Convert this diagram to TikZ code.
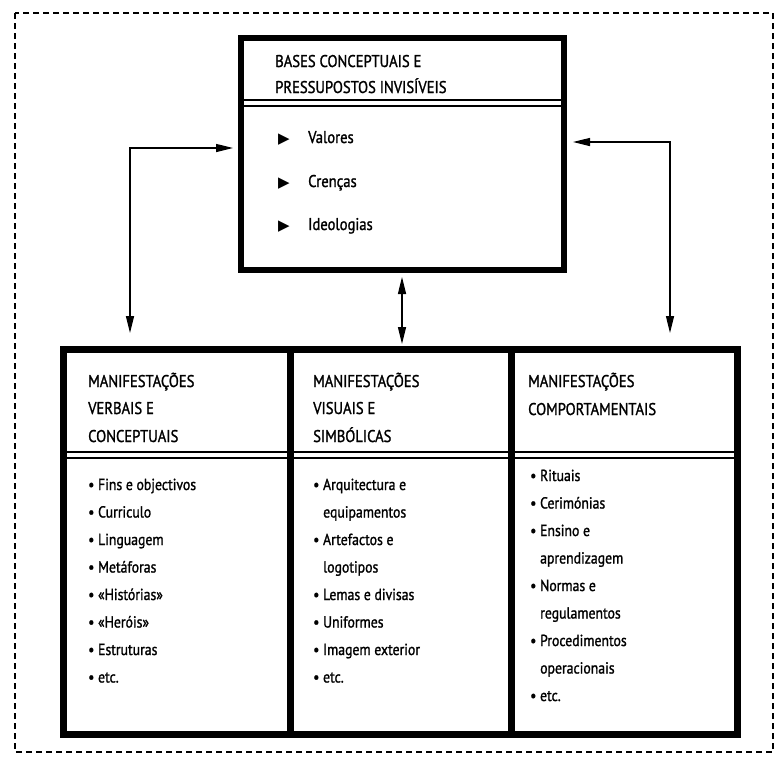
\documentclass[tikz,border=0pt]{standalone}
\usepackage{fontspec}
\setmainfont{PT Sans}[FakeStretch=0.86, FakeBold=1.3]
\newfontfamily\symfont{DejaVu Sans}
\usetikzlibrary{arrows.meta}
\begin{document}
\begin{tikzpicture}[x=1pt,y=-1pt,
  bigbox/.style={draw, line width=6pt, inner sep=0pt, anchor=north west},
  lowbox/.style={draw, line width=7pt, inner sep=0pt, anchor=north west},
  hdr/.style={anchor=base west, inner sep=0pt, font=\fontsize{17}{20}\selectfont},
  itm/.style={anchor=base west, inner sep=0pt, font=\fontsize{16}{19}\selectfont},
  tri/.style={anchor=base, inner sep=0pt, font=\symfont\fontsize{15}{17}\selectfont},
  hline/.style={line width=1.3pt},
  conn/.style={line width=1.3pt, {Triangle[length=17pt,width=8pt]}-{Triangle[length=17pt,width=8pt]}},
  frame/.style={line width=1.8pt, dash pattern=on 6pt off 4pt}
]
\useasboundingbox (0,0) rectangle (776,756);
\fill[white] (0,0) rectangle (776,756);
\draw[frame] (15,13) rectangle (773,752);

% top box
\node[bigbox, minimum width=323pt, minimum height=232pt] (top) at (238,35) {};
\coordinate (hA) at (0,100);
\coordinate (hB) at (0,106);
\draw[hline] (top.west |- hA) -- (top.east |- hA);
\draw[hline] (top.west |- hB) -- (top.east |- hB);
\node[hdr] (t1) at (275,67) {BASES CONCEPTUAIS E};
\node[hdr] (t2) at (275,93) {PRESSUPOSTOS INVISÍVEIS};
\node[tri] (v0) at (284,143) {▶};
\node[hdr] (v1) at (308,143) {Valores};
\node[tri] (c0) at (284,187) {▶};
\node[hdr] (c1) at (308,187) {Crenças};
\node[tri] (i0) at (284,230) {▶};
\node[hdr] (i1) at (308,230) {Ideologias};

% bottom boxes
\node[lowbox, minimum width=226.5pt, minimum height=385pt] (b1) at (60,346) {};
\node[lowbox, minimum width=221pt, minimum height=385pt] (b2) at (286.5,346) {};
\node[lowbox, minimum width=226.5pt, minimum height=385pt] (b3) at (507.5,346) {};
\coordinate (hC) at (0,452);
\coordinate (hD) at (0,458);
\draw[hline] (b1.west |- hC) -- (b3.east |- hC);
\draw[hline] (b1.west |- hD) -- (b3.east |- hD);

% column 1
\node[hdr] (l1) at (88,387) {MANIFESTAÇÕES};
\node[hdr] (l2) at (88,414) {VERBAIS E};
\node[hdr] (l3) at (88,442) {CONCEPTUAIS};
\node[itm] (la) at (88,490) {• Fins e objectivos};
\node[itm] (lb) at (88,517.5) {• Curriculo};
\node[itm] (lc) at (88,545) {• Linguagem};
\node[itm] (ld) at (88,572.5) {• Metáforas};
\node[itm] (le) at (88,600) {• «Histórias»};
\node[itm] (lf) at (88,627.5) {• «Heróis»};
\node[itm] (lg) at (88,655) {• Estruturas};
\node[itm] (lh) at (88,682.5) {• etc.};

% column 2
\node[hdr] (m1) at (313,387) {MANIFESTAÇÕES};
\node[hdr] (m2) at (313,414) {VISUAIS E};
\node[hdr] (m3) at (313,442) {SIMBÓLICAS};
\node[itm] (ma) at (313,490) {• Arquitectura e};
\node[itm] (mb) at (323,517.5) {equipamentos};
\node[itm] (mc) at (313,545) {• Artefactos e};
\node[itm] (md) at (323,572.5) {logotipos};
\node[itm] (me) at (313,600) {• Lemas e divisas};
\node[itm] (mf) at (313,627.5) {• Uniformes};
\node[itm] (mg) at (313,655) {• Imagem exterior};
\node[itm] (mh) at (313,682.5) {• etc.};

% column 3
\node[hdr] (r1) at (528,387) {MANIFESTAÇÕES};
\node[hdr] (r2) at (528,415) {COMPORTAMENTAIS};
\node[itm] (ra) at (530,481) {• Rituais};
\node[itm] (rb) at (530,508.5) {• Cerimónias};
\node[itm] (rc) at (530,536) {• Ensino e};
\node[itm] (rd) at (540,563.5) {aprendizagem};
\node[itm] (re) at (530,591) {• Normas e};
\node[itm] (rf) at (540,618.5) {regulamentos};
\node[itm] (rg) at (530,646) {• Procedimentos};
\node[itm] (rh) at (540,673.5) {operacionais};
\node[itm] (ri) at (530,701) {• etc.};

% connectors
\coordinate (lA) at (130,148);
\coordinate (rA) at (670,142);
\coordinate (mA) at (402,0);
\draw[conn, shorten <=5pt, shorten >=13pt] (top.west |- lA) -| (lA |- b1.north);
\draw[conn, shorten <=6pt, shorten >=13pt] (top.east |- rA) -| (rA |- b3.north);
\draw[conn, shorten <=4pt, shorten >=2pt] (mA |- top.south) -- (mA |- b2.north);
\end{tikzpicture}
\end{document}
